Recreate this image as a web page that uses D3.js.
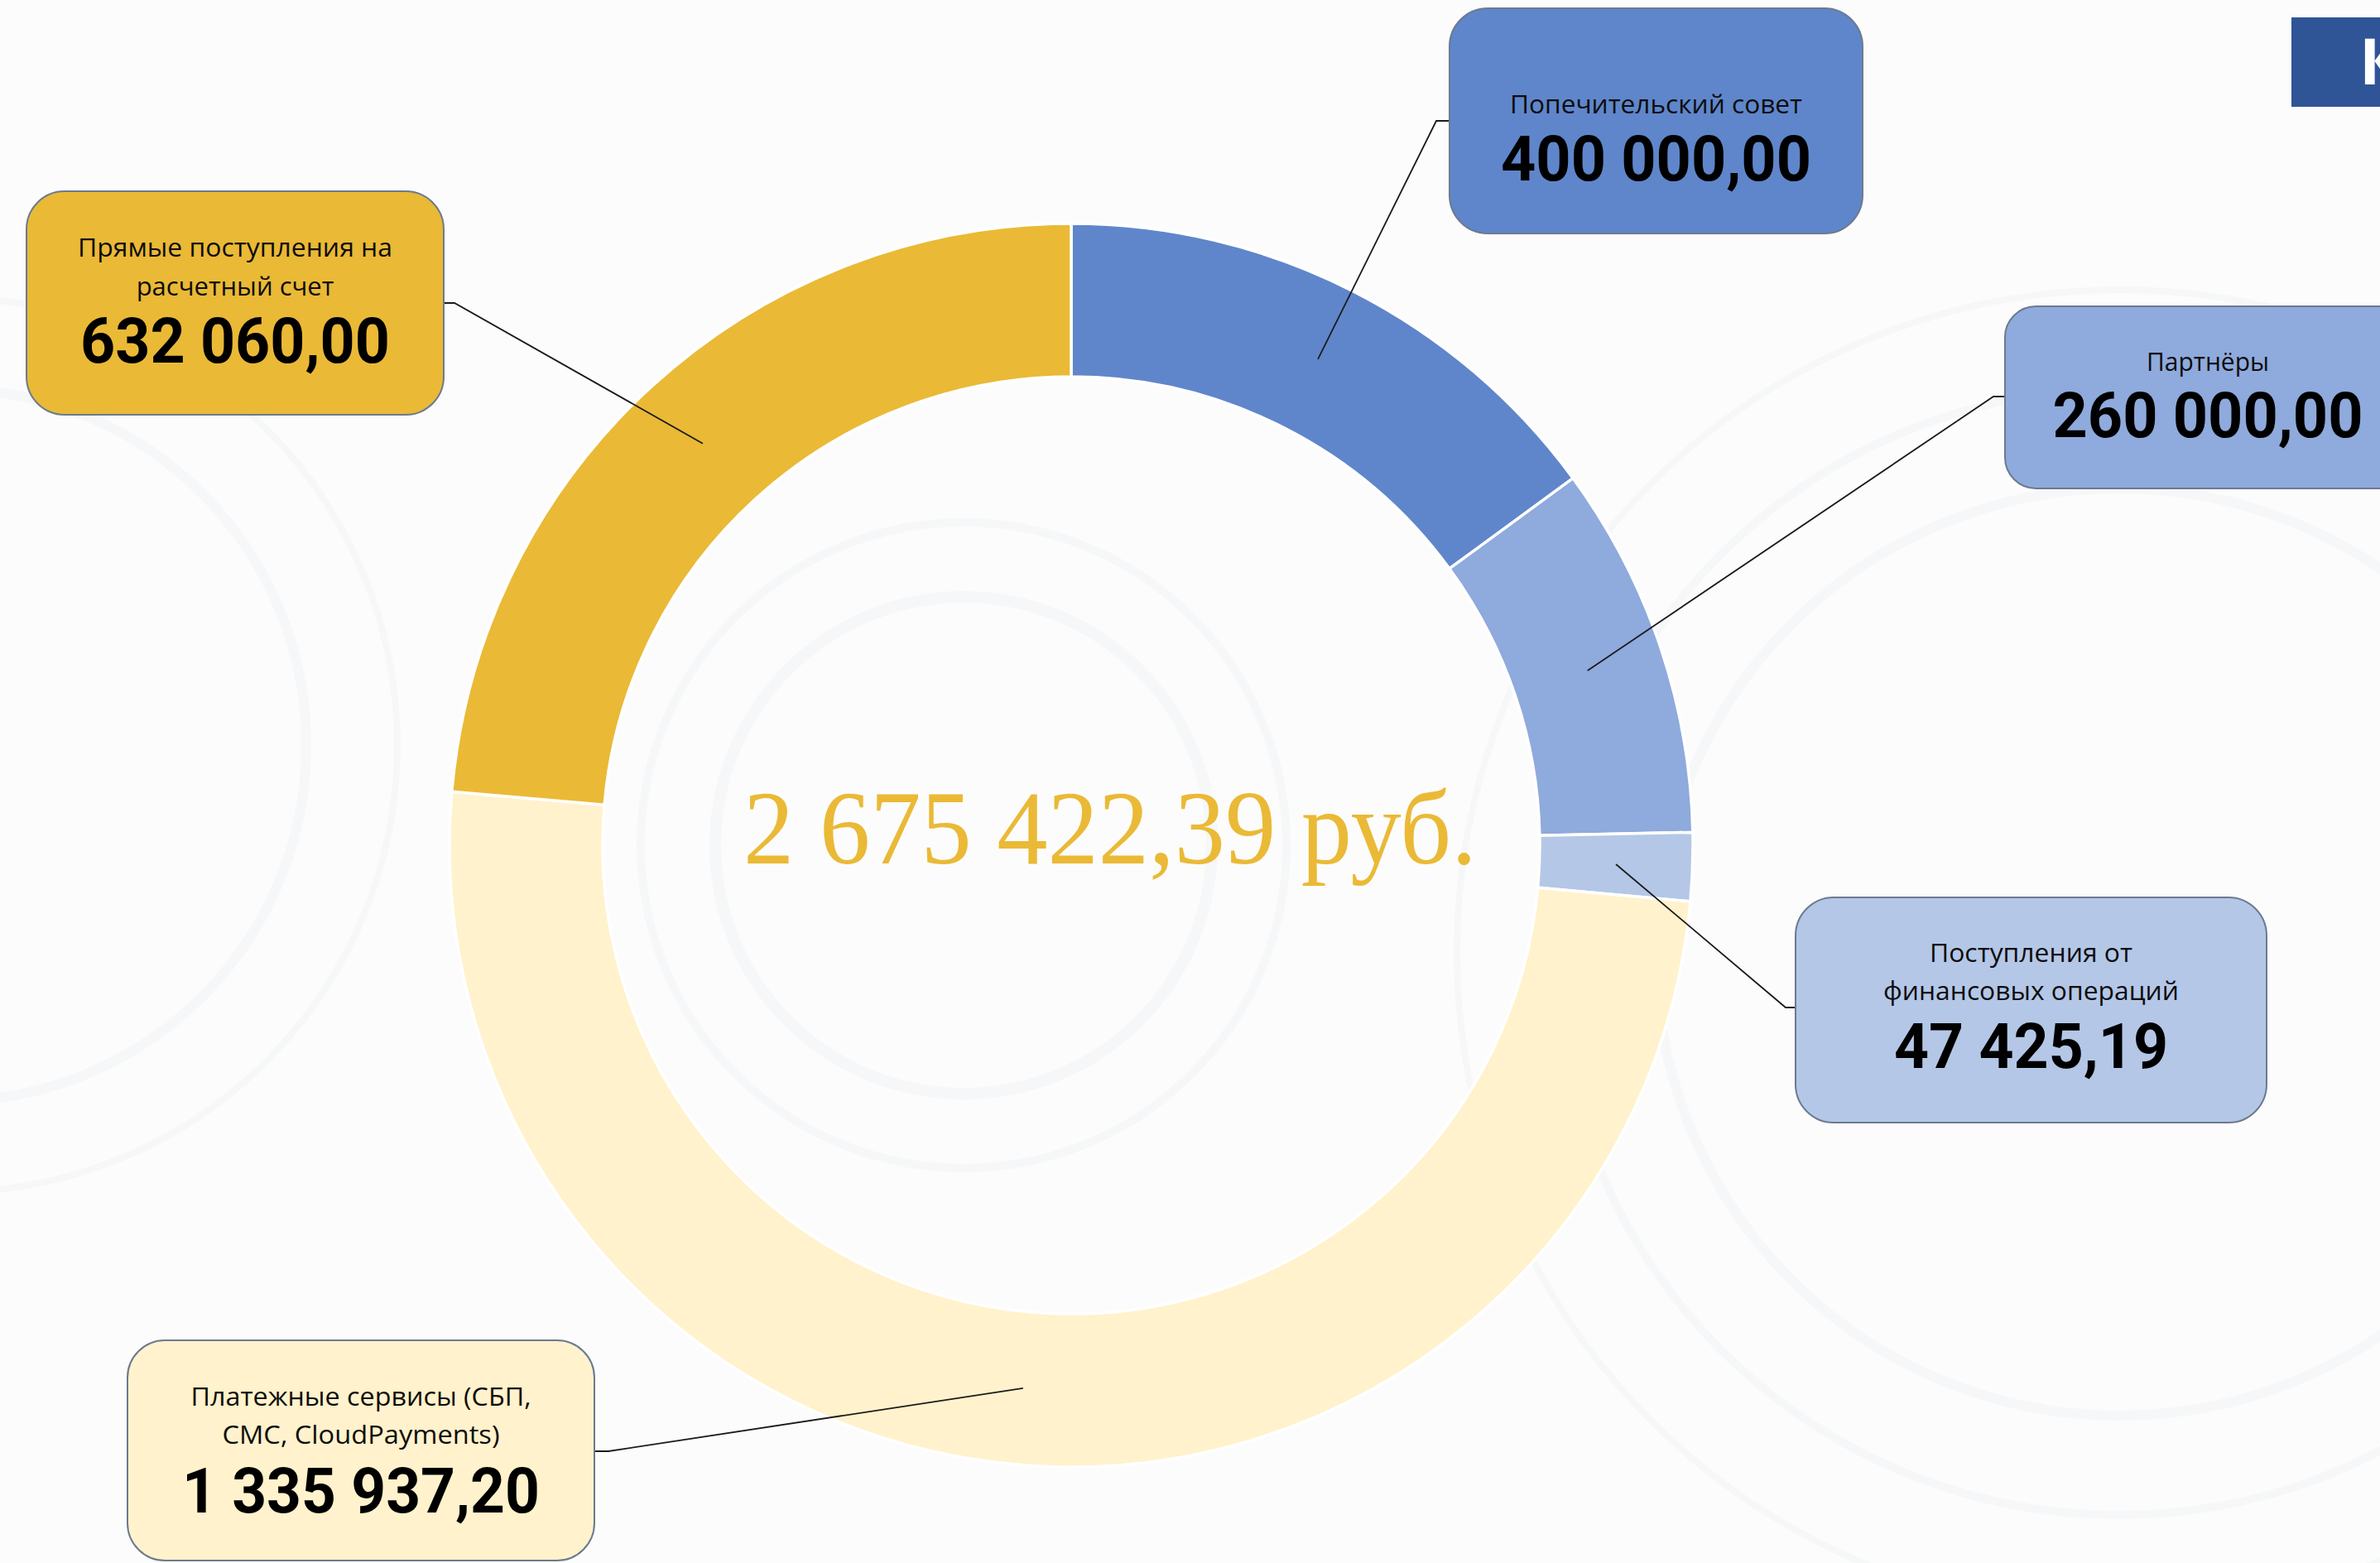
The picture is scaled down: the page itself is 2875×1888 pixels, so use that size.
<!DOCTYPE html>
<html>
<head>
<meta charset="utf-8">
<script src="https://cdn.jsdelivr.net/npm/d3@7"></script>
<style>
  html, body { margin: 0; padding: 0; background: #fcfcfc; overflow: hidden; }
  svg { display: block; }
</style>
</head>
<body>
<svg id="chart" width="2875" height="1888"></svg>
<script>
// ---------------- DATA ----------------
const categories = [
  "Попечительский совет",
  "Партнёры",
  "Поступления от финансовых операций",
  "Платежные сервисы (СБП, СМС, CloudPayments)",
  "Прямые поступления на расчетный счет"
];
const values = [400000.00, 260000.00, 47425.19, 1335937.20, 632060.00];
const labelLines = [
  ["Попечительский совет"],
  ["Партнёры"],
  ["Поступления от", "финансовых операций"],
  ["Платежные сервисы (СБП,", "СМС, CloudPayments)"],
  ["Прямые поступления на", "расчетный счет"]
];
const currencySuffix = " руб.";
const titleText = "К";

// ---------------- STYLE / LAYOUT ----------------
const colors = ["#5f86cb", "#8faadc", "#b4c7e7", "#fff2cc", "#eab936"];
const W = 2875, H = 1888;
const cx = 1294, cy = 1021, R = 751, r = 566;

// per-box layout: rect, elbow point, label baselines, number baseline, fitted widths
const boxes = [
  {x:1751, y:10,   w:499, h:272, elbow:[1735,146], edge:[1751,146], lab:[137],        labW:[353],      num:218,  numW:375},
  {x:2422, y:370,  w:490, h:220, elbow:[2408,479], edge:[2422,479], lab:[448],        labW:[148],      num:528,  numW:375},
  {x:2169, y:1084, w:569, h:272, elbow:[2157,1217],edge:[2169,1217],lab:[1162,1208],  labW:[245,357],  num:1290, numW:331},
  {x:154,  y:1619, w:564, h:266, elbow:[735,1753], edge:[718,1753], lab:[1698,1744],  labW:[411,335],  num:1827, numW:432},
  {x:32,   y:231,  w:504, h:270, elbow:[549,366],  edge:[536,366],  lab:[310,357],   labW:[380,239],  num:438,  numW:374}
];

const ru = d3.formatLocale({decimal: ",", thousands: "\u00a0", grouping: [3], currency: ["", ""]});
const fmt = ru.format(",.2f");

const svg = d3.select("#chart");

// background with a very faint ornament
svg.append("rect").attr("width", W).attr("height", H).attr("fill", "#fcfcfc");
const bg = svg.append("g").attr("fill", "none").attr("stroke", "#f6f7f8");
[[cx - 130, cy, 300, 14], [cx - 130, cy, 390, 10], [2560, 1150, 560, 12], [2560, 1150, 680, 10],
 [2560, 1150, 800, 8], [-60, 900, 430, 12], [-60, 900, 540, 8]].forEach(c => {
  bg.append("circle").attr("cx", c[0]).attr("cy", c[1]).attr("r", c[2]).attr("stroke-width", c[3]);
});

// title box (cut at right edge, as in the original slide)
svg.append("rect").attr("x", 2768).attr("y", 21).attr("width", 140).attr("height", 108).attr("fill", "#2f5597");
svg.append("text").attr("x", 2850).attr("y", 102).attr("fill", "#fff")
  .attr("font-family", "'Open Sans', sans-serif").attr("font-weight", 700).attr("font-size", 77)
  .text(titleText);

// donut
const pie = d3.pie().sort(null).value(d => d).startAngle(0).endAngle(2 * Math.PI);
const arcs = pie(values);
const arc = d3.arc().innerRadius(r).outerRadius(R);
const g = svg.append("g").attr("transform", `translate(${cx},${cy})`);
g.selectAll("path.slice").data(arcs).join("path")
  .attr("class", "slice")
  .attr("d", arc)
  .attr("fill", (d, i) => colors[i])
  .attr("stroke", "#ffffff")
  .attr("stroke-width", 3.5)
  .attr("stroke-linejoin", "miter");

// leader lines
const leaders = svg.append("g").attr("fill", "none").attr("stroke", "#1b1b1b").attr("stroke-width", 1.8);
arcs.forEach((d, i) => {
  const c = arc.centroid(d);
  const b = boxes[i];
  leaders.append("polyline")
    .attr("points", [[c[0] + cx, c[1] + cy], b.elbow, b.edge].map(p => p.join(",")).join(" "));
});

// boxes
function fit(sel, w) {
  const node = sel.node();
  const len = node.getComputedTextLength();
  if (w && Math.abs(len - w) / w > 0.01) {
    sel.attr("textLength", w).attr("lengthAdjust", "spacingAndGlyphs");
  }
}
boxes.forEach((b, i) => {
  const grp = svg.append("g");
  const rad = Math.min(b.w, b.h) * 0.17;
  grp.append("rect").attr("x", b.x).attr("y", b.y).attr("width", b.w).attr("height", b.h)
    .attr("rx", rad).attr("ry", rad)
    .attr("fill", colors[i]).attr("stroke", "#6b7a8f").attr("stroke-width", 2);
  const mx = b.x + b.w / 2;
  labelLines[i].forEach((line, k) => {
    const t = grp.append("text").attr("x", mx).attr("y", b.lab[k])
      .attr("text-anchor", "middle").attr("fill", "#0d0d0d")
      .attr("font-family", "'Open Sans', Lato, sans-serif").attr("font-size", 31)
      .text(line);
    fit(t, b.labW[k]);
  });
  const n = grp.append("text").attr("x", mx).attr("y", b.num)
    .attr("text-anchor", "middle").attr("fill", "#000")
    .attr("font-family", "Roboto, sans-serif").attr("font-weight", 700).attr("font-size", 76)
    .text(fmt(values[i]));
  fit(n, b.numW);
});

// center total
const total = d3.sum(values);
const ct = svg.append("text").attr("x", 1341).attr("y", 1043)
  .attr("text-anchor", "middle").attr("fill", "#eab936")
  .attr("font-family", "'Liberation Serif', 'DejaVu Serif', serif").attr("font-size", 128)
  .text(fmt(total) + currencySuffix);
fit(ct, 886);
</script>
</body>
</html>
